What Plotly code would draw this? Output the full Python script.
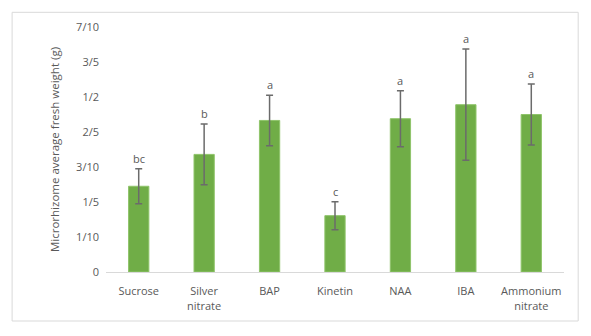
import plotly.graph_objects as go

categories = ["Sucrose", "Silver<br>nitrate", "BAP", "Kinetin", "NAA", "IBA", "Ammonium<br>nitrate"]
means = [0.245, 0.336, 0.433, 0.161, 0.438, 0.478, 0.450]
errors = [0.050, 0.087, 0.072, 0.040, 0.080, 0.159, 0.087]
letters = ["bc", "b", "a", "c", "a", "a", "a"]
tick_vals = [0, 0.1, 0.2, 0.3, 0.4, 0.5, 0.6, 0.7]
tick_text = ["0", "1/10", "1/5", "3/10", "2/5", "1/2", "3/5", "7/10"]

font_family = "Open Sans, Liberation Sans, sans-serif"
text_color = "#595959"

fig = go.Figure()
fig.add_trace(go.Bar(
    x=categories, y=means,
    marker=dict(color="#70ad47", line=dict(color="#8fc46a", width=1)),
    error_y=dict(type="data", array=errors, visible=True, color="#6b6b6b", thickness=1.5, width=3.5),
    showlegend=False,
))

for c, m, e, l in zip(categories, means, errors, letters):
    fig.add_annotation(x=c, y=m + e, text=l, showarrow=False, yanchor="bottom", yshift=1,
                       font=dict(size=11, color=text_color, family=font_family))

fig.add_shape(type="rect", xref="paper", yref="paper", x0=-0.205, x1=1.031, y0=-0.2, y1=1.06,
              line=dict(color="#d9d9d9", width=1), fillcolor="rgba(0,0,0,0)", layer="below")

fig.update_layout(
    width=591, height=336,
    margin=dict(l=106, r=27, t=27, b=64),
    paper_bgcolor="white", plot_bgcolor="white",
    bargap=0.69,
    font=dict(family=font_family, size=11, color=text_color),
    xaxis=dict(showline=True, linecolor="#d9d9d9", linewidth=1, ticks="", showgrid=False,
               ticklabelstandoff=9,
               tickfont=dict(size=11, color=text_color)),
    yaxis=dict(range=[0, 0.7], tickvals=tick_vals, ticktext=tick_text, showgrid=False,
               zeroline=False, showline=False, ticks="", ticklabelstandoff=6,
               title=dict(text="Microrhizome average fresh weight (g)", standoff=14,
                          font=dict(size=11.5, color=text_color)),
               tickfont=dict(size=11, color=text_color)),
)

fig.write_html("out.html")
